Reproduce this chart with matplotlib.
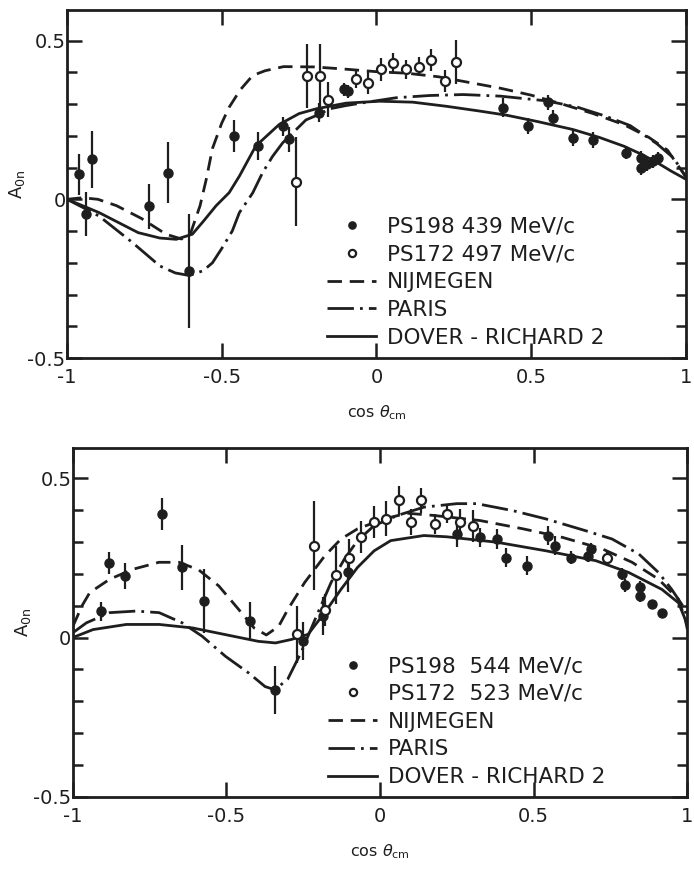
import numpy as np
import matplotlib
matplotlib.use('Agg')
import matplotlib.pyplot as plt

plt.rcParams['font.family'] = ['DejaVu Sans']
plt.rcParams['axes.unicode_minus'] = False

INK = '#1e1e1e'

# --- upper panel: 439 / 497 MeV/c ---
top_ps198_x = [-0.961, -0.94, -0.92, -0.735, -0.673, -0.605, -0.46, -0.384, -0.303, -0.282,
               -0.187, -0.104, -0.093, 0.41, 0.488, 0.553, 0.57, 0.634, 0.70, 0.806,
               0.854, 0.854, 0.874, 0.893, 0.91]
top_ps198_y = [0.079, -0.047, 0.126, -0.022, 0.084, -0.226, 0.20, 0.168, 0.23, 0.189,
               0.273, 0.346, 0.34, 0.288, 0.23, 0.305, 0.257, 0.194, 0.188, 0.147,
               0.131, 0.10, 0.11, 0.12, 0.13]
top_ps198_err = [0.065, 0.07, 0.09, 0.07, 0.095, 0.18, 0.05, 0.045, 0.03, 0.04,
                 0.03, 0.02, 0.02, 0.03, 0.025, 0.025, 0.025, 0.025, 0.025, 0.02,
                 0.02, 0.025, 0.02, 0.02, 0.02]

top_ps172_x = [-0.26, -0.226, -0.184, -0.158, -0.066, -0.028, 0.015, 0.053, 0.096, 0.137,
               0.175, 0.22, 0.258]
top_ps172_y = [0.056, 0.388, 0.388, 0.314, 0.38, 0.367, 0.409, 0.43, 0.409, 0.417,
               0.438, 0.372, 0.432]
top_ps172_err = [0.14, 0.10, 0.10, 0.055, 0.03, 0.035, 0.035, 0.03, 0.03, 0.03,
                 0.035, 0.035, 0.07]

top_nij_x = [-1.0, -0.95, -0.90, -0.84, -0.76, -0.68, -0.63, -0.60, -0.57, -0.55, -0.53,
             -0.50, -0.476, -0.44, -0.40, -0.36, -0.30, -0.20, -0.10, 0.0, 0.10, 0.20,
             0.30, 0.40, 0.50, 0.60, 0.70, 0.80, 0.88, 0.94, 1.0]
top_nij_y = [0.0, 0.005, 0.0, -0.02, -0.06, -0.11, -0.125, -0.105, -0.02, 0.063, 0.16,
             0.24, 0.29, 0.345, 0.39, 0.405, 0.418, 0.417, 0.41, 0.402, 0.397, 0.386,
             0.368, 0.35, 0.328, 0.30, 0.27, 0.235, 0.195, 0.155, 0.07]

top_par_x = [-1.0, -0.95, -0.896, -0.79, -0.70, -0.65, -0.605, -0.56, -0.53, -0.50, -0.466,
             -0.443, -0.40, -0.368, -0.336, -0.303, -0.28, -0.228, -0.18, -0.152, -0.10,
             -0.044, 0.064, 0.172, 0.28, 0.40, 0.55, 0.65, 0.74, 0.82, 0.906, 0.96, 1.0]
top_par_y = [0.0, -0.025, -0.053, -0.135, -0.21, -0.232, -0.24, -0.225, -0.20, -0.155, -0.10,
             -0.042, 0.02, 0.084, 0.135, 0.178, 0.20, 0.25, 0.27, 0.285, 0.295,
             0.304, 0.32, 0.327, 0.33, 0.325, 0.31, 0.29, 0.262, 0.232, 0.175, 0.13, 0.07]

top_dr2_x = [-1.0, -0.95, -0.896, -0.83, -0.77, -0.70, -0.647, -0.595, -0.56, -0.518, -0.476,
             -0.443, -0.39, -0.314, -0.25, -0.195, -0.098, 0.01, 0.117, 0.226, 0.333,
             0.42, 0.52, 0.634, 0.72, 0.80, 0.86, 0.906, 0.95, 1.0]
top_dr2_y = [0.0, -0.02, -0.042, -0.075, -0.105, -0.122, -0.126, -0.11, -0.07, -0.02, 0.021,
             0.073, 0.168, 0.236, 0.27, 0.285, 0.303, 0.309, 0.306, 0.293, 0.278,
             0.265, 0.245, 0.22, 0.195, 0.167, 0.14, 0.116, 0.09, 0.063]

# --- lower panel: 544 / 523 MeV/c ---
bot_ps198_x = [-0.91, -0.883, -0.83, -0.71, -0.644, -0.574, -0.423, -0.342, -0.25, -0.186,
               -0.105, 0.25, 0.326, 0.381, 0.412, 0.479, 0.547, 0.57, 0.622, 0.676,
               0.687, 0.789, 0.798, 0.848, 0.848, 0.886, 0.918]
bot_ps198_y = [0.083, 0.233, 0.193, 0.388, 0.22, 0.115, 0.051, -0.164, -0.01, 0.067,
               0.204, 0.325, 0.314, 0.309, 0.251, 0.225, 0.32, 0.288, 0.251, 0.256,
               0.278, 0.199, 0.164, 0.157, 0.13, 0.104, 0.076]
bot_ps198_err = [0.03, 0.035, 0.04, 0.05, 0.07, 0.10, 0.06, 0.075, 0.06, 0.06,
                 0.06, 0.04, 0.03, 0.03, 0.03, 0.03, 0.03, 0.03, 0.02, 0.02,
                 0.02, 0.02, 0.02, 0.02, 0.02, 0.015, 0.015]

bot_ps172_x = [-0.27, -0.215, -0.18, -0.143, -0.10, -0.062, -0.021, 0.019, 0.062, 0.10,
               0.134, 0.18, 0.218, 0.261, 0.302, 0.74]
bot_ps172_y = [0.01, 0.288, 0.085, 0.196, 0.25, 0.315, 0.362, 0.372, 0.43, 0.362,
               0.43, 0.356, 0.388, 0.362, 0.35, 0.251]
bot_ps172_err = [0.09, 0.14, 0.05, 0.09, 0.06, 0.05, 0.05, 0.055, 0.045, 0.04,
                 0.04, 0.03, 0.03, 0.04, 0.05, 0.02]

bot_nij_x = [-1.0, -0.97, -0.945, -0.88, -0.805, -0.72, -0.654, -0.59, -0.525, -0.46, -0.41,
             -0.37, -0.33, -0.30, -0.245, -0.18, -0.127, -0.073, 0.013, 0.089, 0.175,
             0.326, 0.466, 0.595, 0.724, 0.821, 0.907, 0.972, 1.0]
bot_nij_y = [0.035, 0.10, 0.141, 0.183, 0.214, 0.236, 0.236, 0.212, 0.162, 0.088, 0.03,
             0.008, 0.035, 0.088, 0.173, 0.256, 0.309, 0.341, 0.372, 0.39, 0.383,
             0.367, 0.341, 0.314, 0.278, 0.236, 0.183, 0.12, 0.04]

bot_par_x = [-1.0, -0.956, -0.88, -0.794, -0.719, -0.644, -0.579, -0.503, -0.428, -0.374,
             -0.342, -0.30, -0.256, -0.202, -0.159, -0.116, -0.073, -0.019, 0.057, 0.143,
             0.25, 0.315, 0.433, 0.541, 0.67, 0.756, 0.843, 0.907, 0.95, 0.994, 1.0]
bot_par_y = [0.015, 0.046, 0.078, 0.083, 0.078, 0.046, 0.004, -0.059, -0.111, -0.154,
             -0.164, -0.13, -0.045, 0.078, 0.173, 0.246, 0.304, 0.351, 0.383, 0.409,
             0.42, 0.42, 0.398, 0.372, 0.335, 0.309, 0.262, 0.204, 0.151, 0.088, 0.04]

bot_dr2_x = [-1.0, -0.934, -0.826, -0.719, -0.61, -0.503, -0.396, -0.34, -0.288, -0.234,
             -0.18, -0.127, -0.073, -0.019, 0.035, 0.143, 0.218, 0.38, 0.541, 0.703,
             0.81, 0.918, 0.972, 0.994, 1.0]
bot_dr2_y = [0.0, 0.025, 0.041, 0.041, 0.03, 0.009, -0.012, -0.017, -0.006, 0.01,
             0.078, 0.151, 0.22, 0.272, 0.304, 0.32, 0.316, 0.299, 0.272, 0.241,
             0.204, 0.151, 0.109, 0.057, 0.03]

model_labels = ['NIJMEGEN', 'PARIS', 'DOVER - RICHARD 2']
top_data_labels = ['PS198 439 MeV/c', 'PS172 497 MeV/c']
bot_data_labels = ['PS198  544 MeV/c', 'PS172  523 MeV/c']


def dibujar_panel(ax, ps198, ps172, modelos, etiquetas, leg_anchor):
    lw = 2.0
    h_nij, = ax.plot(modelos[0][0], modelos[0][1], color=INK, lw=lw, dashes=(5.2, 2.8))
    h_par, = ax.plot(modelos[1][0], modelos[1][1], color=INK, lw=lw, dashes=(9.5, 2.2, 1.0, 2.2))
    h_dr2, = ax.plot(modelos[2][0], modelos[2][1], color=INK, lw=lw)

    # barras de error sin tapas
    ax.errorbar(ps198[0], ps198[1], yerr=ps198[2], fmt='none', ecolor=INK, elinewidth=1.6)
    ax.errorbar(ps172[0], ps172[1], yerr=ps172[2], fmt='none', ecolor=INK, elinewidth=1.6)
    h_full, = ax.plot(ps198[0], ps198[1], 'o', color=INK, ms=6.5, ls='none')
    h_open, = ax.plot(ps172[0], ps172[1], 'o', mfc='white', mec=INK, mew=1.6, ms=6.5, ls='none')

    ax.set_xlim(-1, 1)
    ax.set_ylim(-0.5, 0.595)
    ax.set_xticks([-1, -0.5, 0, 0.5, 1])
    ax.set_xticklabels(['-1', '-0.5', '0', '0.5', '1'])
    ax.set_yticks([-0.5, 0, 0.5])
    ax.set_yticklabels(['-0.5', '0', '0.5'])
    ax.set_yticks(np.arange(-0.4, 0.5, 0.1), minor=True)
    ax.tick_params(which='both', direction='in', top=True, right=True, color=INK, width=1.8)
    ax.tick_params(which='major', length=11, labelsize=14, labelcolor=INK)
    ax.tick_params(which='minor', length=7)
    ax.tick_params(axis='y', pad=1)
    ax.tick_params(axis='x', pad=7)
    for sp in ax.spines.values():
        sp.set_linewidth(2.0)
        sp.set_color(INK)

    ax.set_ylabel(r'A$_{\rm 0n}$', fontsize=13, color=INK)
    ax.yaxis.set_label_coords(-0.065, 0.5)
    ax.set_xlabel(r'cos $\theta_{\rm cm}$', fontsize=11.5, color=INK, labelpad=12)

    ax.legend([h_full, h_open, h_nij, h_par, h_dr2], etiquetas + model_labels,
              loc='lower left', bbox_to_anchor=leg_anchor, frameon=False,
              fontsize=15.5, handlelength=2.3, handletextpad=0.5, labelspacing=0.36,
              borderpad=0, borderaxespad=0, labelcolor=INK, markerscale=0.8)


fig = plt.figure(figsize=(6.94, 8.69), dpi=100)
ax1 = fig.add_axes([0.0965, 0.588, 0.892, 0.400])
ax2 = fig.add_axes([0.105, 0.083, 0.885, 0.4016])

dibujar_panel(ax1,
              (top_ps198_x, top_ps198_y, top_ps198_err),
              (top_ps172_x, top_ps172_y, top_ps172_err),
              [(top_nij_x, top_nij_y), (top_par_x, top_par_y), (top_dr2_x, top_dr2_y)],
              top_data_labels, (0.42, 0.03))
dibujar_panel(ax2,
              (bot_ps198_x, bot_ps198_y, bot_ps198_err),
              (bot_ps172_x, bot_ps172_y, bot_ps172_err),
              [(bot_nij_x, bot_nij_y), (bot_par_x, bot_par_y), (bot_dr2_x, bot_dr2_y)],
              bot_data_labels, (0.415, 0.028))

fig.savefig('out.png', dpi=100)
